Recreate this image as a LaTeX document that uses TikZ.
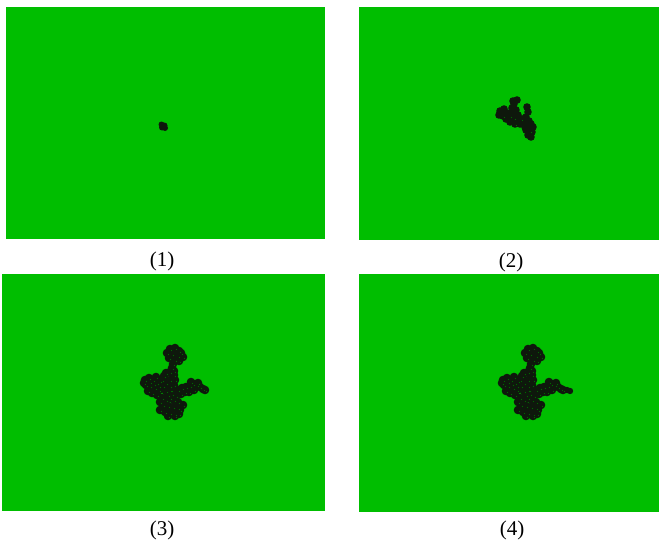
\documentclass[tikz,border=0pt]{standalone}
\usepackage{fontspec}
\setmainfont{Liberation Serif}
\definecolor{forest}{RGB}{0,190,0}
\definecolor{ash}{RGB}{14,24,12}

% burnt area after the later steps, drawn as a cloud of dots
\newcommand{\lateburn}{
    (170,349),(175,348),(179,351),(167,353),(172,354),(178,356),(181,353),(169,358),(175,360),(179,361),(183,357),
    (173,364),(172,368),(174,371),
    (166,373),(170,372),(174,375),(175,380),(174,385),(171,390),(166,391),(163,386),(162,380),(164,376),
    (145,380),(149,378),(153,380),(157,383),(146,385),(150,386),(155,388),(159,390),(148,391),(152,393),(157,395),(144,383),
    (150,382),(154,384),(159,386),(160,381),(156,377),
    (178,390),(182,388),(186,387),(190,386),(193,384),(197,385),(200,387),(203,389),(205,390),(185,392),(189,392),(194,390),(198,383),(181,394),(191,382),
    (162,398),(166,400),(170,398),(174,400),(178,402),(163,405),(168,406),(173,407),(178,408),(180,410),(165,412),(170,413),(175,414),(179,414),(168,416),(175,416),(160,402),(183,405),(160,410),
    (168,395),(172,394),(176,396),(170,390),(166,383),(170,380),(170,386)}

\begin{document}
\begin{tikzpicture}[x=1pt, y=-1pt,
    panel/.style={fill=forest, inner sep=0pt, outer sep=0pt, anchor=north west},
    burnt/.style={fill=ash},
    fleck/.style={fill=forest!55!black},
    caption/.style={font=\fontsize{21}{21}\selectfont, inner sep=1pt}]
    \useasboundingbox (0,0) rectangle (659,543);

    \node (p1) [panel, minimum width=319pt, minimum height=232pt] at (6,7) {};
    \node (p2) [panel, minimum width=300pt, minimum height=233pt] at (359,7) {};
    \node (p3) [panel, minimum width=323pt, minimum height=237pt] at (2,274) {};
    \node (p4) [panel, minimum width=300pt, minimum height=238pt] at (359,274) {};

    \node (c1) [caption] at (162,261) {(1)};
    \node (c2) [caption] at (511,262) {(2)};
    \node (c3) [caption] at (162,530) {(3)};
    \node (c4) [caption] at (512,530) {(4)};

    % step 1
    \foreach \p in {(161.5,124.5),(164.5,125.5),(165,128),(162,127.5)}
        \fill[burnt] \p circle (3);

    % step 2
    \foreach \p in {(500,111),(504,109),(499,115),(503,116),(507,113),(506,119),
                    (502,112),(505,116),(508,118),(512,113),(516,120),(519,121),(523,119),
                    (513,101),(517,100),(514,104),(512,108),(516,110),
                    (527,107),(528,112),(526,117),(529,121),
                    (510,116),(514,118),(518,115),(521,119),(510,122),(515,124),(520,124),(524,123),
                    (527,125),(531,124),(533,127),(526,130),(530,131),(528,135),(531,137),(532,132),(525,127),(529,128)}
        \fill[burnt] \p circle (3.8);
    \begin{scope}[shift={(1.5,1.5)}]
        \foreach \p in {(503,116),(514,118),(521,119),(515,124),(530,131),(510,116)}
            \fill[fleck] \p circle (0.7);
    \end{scope}

    % step 3
    \foreach \p in \lateburn
        \fill[burnt] \p circle (4.3);
    \begin{scope}[shift={(1.5,1.5)}]
        \foreach \p in \lateburn
            \fill[fleck] \p circle (0.6);
    \end{scope}

    % step 4, same scar a little further east
    \begin{scope}[xshift=358pt]
        \foreach \p in \lateburn
            \fill[burnt] \p circle (4.3);
        \foreach \p in {(209,390),(212,391)}
            \fill[burnt] \p circle (3.2);
        \begin{scope}[shift={(1.5,1.5)}]
            \foreach \p in \lateburn
                \fill[fleck] \p circle (0.6);
        \end{scope}
    \end{scope}
\end{tikzpicture}
\end{document}
